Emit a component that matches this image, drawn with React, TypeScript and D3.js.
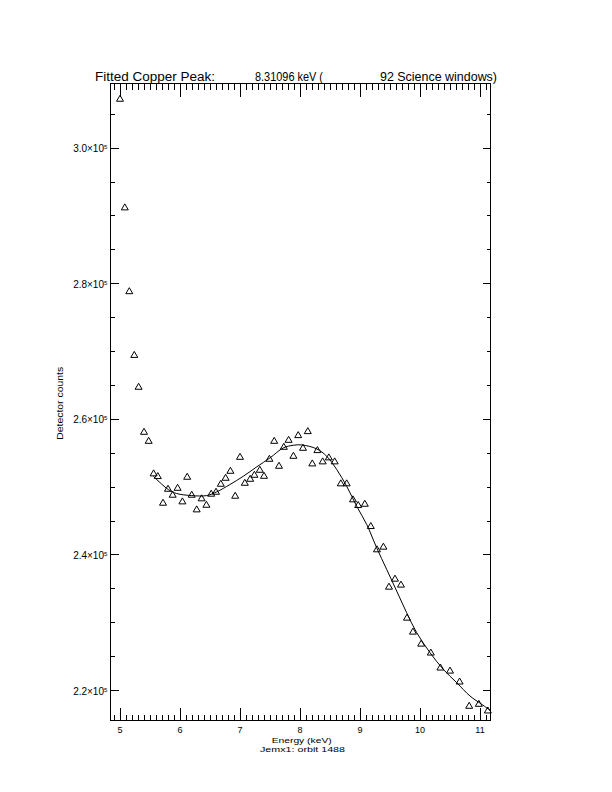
import React from "react";
import * as d3 from "d3";

// Measured spectrum points (energy in keV, detector counts)
const energy = [
  5.0, 5.08, 5.155, 5.238, 5.31, 5.4, 5.478, 5.56, 5.63, 5.717,
  5.8, 5.878, 5.96, 6.04, 6.12, 6.195, 6.278, 6.36, 6.44, 6.52,
  6.6, 6.68, 6.76, 6.84, 6.92, 7.0, 7.08, 7.17, 7.24, 7.33,
  7.4, 7.49, 7.57, 7.65, 7.73, 7.81, 7.89, 7.97, 8.05, 8.13,
  8.205, 8.29, 8.378, 8.48, 8.578, 8.68, 8.778, 8.883, 8.97, 9.08,
  9.18, 9.283, 9.39, 9.483, 9.583, 9.683, 9.783, 9.883, 10.02, 10.18,
  10.34, 10.5, 10.66, 10.82, 10.98, 11.13,
];
const counts = [
  307280, 291260, 278900, 269500, 264800, 258160, 256830, 252030, 251630, 247700,
  249760, 248880, 249900, 247900, 251530, 248880, 246720, 248350, 247400, 249030,
  249320, 250500, 251380, 252410, 248730, 254470, 250640, 251230, 251820, 252560,
  251670, 254180, 256830, 253150, 255950, 256980, 254620, 257670, 255800, 258260,
  253500, 255460, 253800, 254390, 253800, 250560, 250560, 248200, 247360, 247550,
  244260, 240830, 241220, 235320, 236500, 235620, 230750, 228690, 226920, 225600,
  223390, 222940, 221330, 217750, 218040, 217060,
];

// Fitted model curve
const fitEnergy = [
  5.555, 5.805, 5.945, 6.195, 6.445, 6.612, 6.833, 7.055, 7.278, 7.5,
  7.722, 7.888, 8.028, 8.278, 8.445, 8.612, 8.778, 8.945, 9.112, 9.278,
  9.445, 9.612, 9.778, 9.945, 10.167, 10.388, 10.612, 10.833, 11.028, 11.167,
];
const fitCounts = [
  251530, 249570, 248980, 248680, 248680, 249230, 250310, 251530, 252910, 254240,
  255710, 256100, 256150, 255570, 254480, 252520, 250060, 247110, 244410, 240980,
  237780, 234590, 231400, 228460, 225510, 223050, 221090, 219120, 217900, 217010,
];

const xTickValues = [5, 6, 7, 8, 9, 10, 11];
const xTickLabels = ["5", "6", "7", "8", "9", "10", "11"];
const yTickValues = [220000, 240000, 260000, 280000, 300000];
const yTickMantissa = ["2.2", "2.4", "2.6", "2.8", "3.0"];
const yTickExponent = "5";

const titleParts = ["Fitted Copper Peak:", "8.31096 keV (", "92 Science windows)"];
const xTitle = "Energy (keV)";
const subTitle = "Jemx1: orbit 1488";
const yTitle = "Detector counts";

const FONT = "'Liberation Sans', 'DejaVu Sans', sans-serif";

export default function App() {
  const L = 110, R = 490, T = 83, B = 720;
  const x = d3.scaleLinear().domain([4.8333, 11.1667]).range([L, R]);
  const y = d3.scaleLinear().domain([215580, 309530]).range([B, T]);
  const px = (v: number) => Math.round(v) + 0.5;

  const xMinor = d3.range(48, 113).map((i) => i / 10).filter((v) => x(v) > L + 0.5 && x(v) < R - 0.5);
  const yMinor = d3.range(43, 63).map((i) => i * 5000).filter((v) => y(v) > T + 0.5 && y(v) < B - 0.5);

  const xMajLen = 12.7, xMinLen = 6.4, yMajLen = 7.6, yMinLen = 3.8;

  const line = d3
    .line<number>()
    .x((_, i) => x(fitEnergy[i]))
    .y((d) => y(d))
    .curve(d3.curveCatmullRom);

  const tri = (cx: number, cy: number) =>
    `M${cx - 3.5},${cy + 3}L${cx},${cy - 3}L${cx + 3.5},${cy + 3}Z`;

  const titleX = [95, 255, 380];
  const titleLen = [120, 68, 117];

  return (
    <svg
      width={612}
      height={792}
      style={{ position: "absolute", left: 0, top: 0, background: "#fff" }}
      fontFamily={FONT}
    >
      <rect x={0} y={0} width={612} height={792} fill="#fff" />
      {/* Title */}
      {titleParts.map((t, i) => (
        <text key={i} x={titleX[i]} y={80.5} fontSize={12.5} textLength={titleLen[i]} lengthAdjust="spacingAndGlyphs" fill="#000">
          {t}
        </text>
      ))}
      {/* Frame */}
      <g shapeRendering="crispEdges" stroke="#000" strokeWidth={1}>
        <rect x={px(L)} y={px(T)} width={Math.round(R) - Math.round(L)} height={Math.round(B) - Math.round(T)} fill="none" />
        {xTickValues.map((v) => (
          <g key={"xM" + v}>
            <line x1={px(x(v))} x2={px(x(v))} y1={px(B)} y2={px(B - xMajLen)} />
            <line x1={px(x(v))} x2={px(x(v))} y1={px(T)} y2={px(T + xMajLen)} />
          </g>
        ))}
        {xMinor.map((v) => (
          <g key={"xm" + v}>
            <line x1={px(x(v))} x2={px(x(v))} y1={px(B)} y2={px(B - xMinLen)} />
            <line x1={px(x(v))} x2={px(x(v))} y1={px(T)} y2={px(T + xMinLen)} />
          </g>
        ))}
        {yTickValues.map((v) => (
          <g key={"yM" + v}>
            <line x1={px(L)} x2={px(L + yMajLen)} y1={px(y(v))} y2={px(y(v))} />
            <line x1={px(R)} x2={px(R - yMajLen)} y1={px(y(v))} y2={px(y(v))} />
          </g>
        ))}
        {yMinor.map((v) => (
          <g key={"ym" + v}>
            <line x1={px(L)} x2={px(L + yMinLen)} y1={px(y(v))} y2={px(y(v))} />
            <line x1={px(R)} x2={px(R - yMinLen)} y1={px(y(v))} y2={px(y(v))} />
          </g>
        ))}
      </g>
      {/* x tick labels */}
      {xTickValues.map((v, i) => (
        <text key={"xl" + v} x={x(v)} y={732.5} fontSize={9} textAnchor="middle" fill="#000">
          {xTickLabels[i]}
        </text>
      ))}
      {/* y tick labels */}
      {yTickValues.map((v, i) => (
        <g key={"yl" + v}>
          <text x={104} y={y(v) + 4.5} fontSize={10} textAnchor="end" fill="#000">
            {yTickMantissa[i] + "\u00d710"}
          </text>
          <text x={104} y={y(v) + 1.5} fontSize={6} textAnchor="start" fill="#000">
            {yTickExponent}
          </text>
        </g>
      ))}
      {/* axis titles */}
      <text x={301.7} y={742.5} fontSize={8} textAnchor="middle" textLength={60} lengthAdjust="spacingAndGlyphs" fill="#000">
        {xTitle}
      </text>
      <text x={302.5} y={752} fontSize={8} textAnchor="middle" textLength={85} lengthAdjust="spacingAndGlyphs" fill="#000">
        {subTitle}
      </text>
      <text
        transform={`translate(63.3,403.3) rotate(-90)`}
        fontSize={9.5}
        textAnchor="middle"
        textLength={73}
        lengthAdjust="spacingAndGlyphs"
        fill="#000"
      >
        {yTitle}
      </text>
      {/* data points */}
      <g stroke="#000" strokeWidth={1} fill="none">
        {energy.map((e, i) => (
          <path key={"p" + i} d={tri(x(e), y(counts[i]))} />
        ))}
      </g>
      {/* fit curve */}
      <path d={line(fitCounts) || ""} fill="none" stroke="#000" strokeWidth={1} />
    </svg>
  );
}
